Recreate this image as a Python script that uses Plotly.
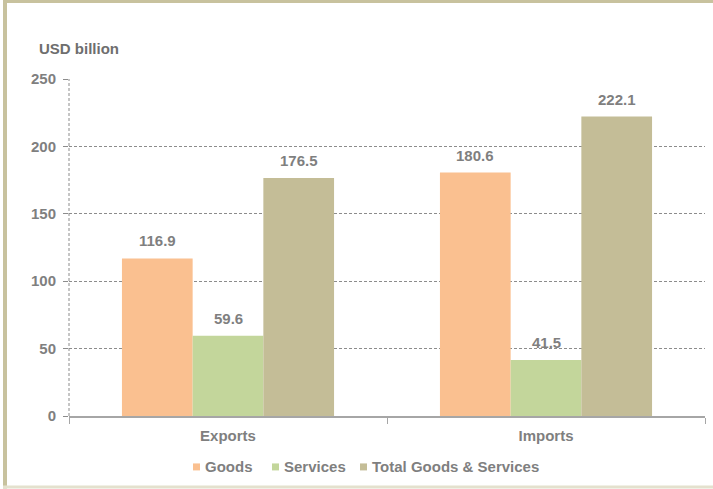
import plotly.graph_objects as go

# Trade flows, USD billion
categories = ["Exports", "Imports"]
series_names = ["Goods", "Services", "Total Goods & Services"]
goods = [116.9, 180.6]
services = [59.6, 41.5]
total = [176.5, 222.1]
y_ticks = [0, 50, 100, 150, 200, 250]

colors = ["#FAC090", "#C3D69B", "#C4BD97"]
grey = "#7F7F7F"
font_family = "Liberation Sans, Arial, sans-serif"
FS = 15

W, H = 713, 489
L, R, T, B = 69, 8, 79, 72.5
pw, ph = W - L - R, H - T - B
BARGAP = 0.333


def px_x(p):
    return (p - L) / pw


def px_y(p):
    return (H - B - p) / ph


fig = go.Figure()
for name, vals, col in zip(series_names, [goods, services, total], colors):
    fig.add_trace(go.Bar(
        x=categories, y=vals, name=name,
        marker=dict(color=col, line=dict(width=0)),
        showlegend=False,
    ))

# value labels above each bar
bar_w = pw / len(categories) * (1 - BARGAP) / len(series_names)
annotations = []
for i, vals in enumerate([goods, services, total]):
    offset = (i - (len(series_names) - 1) / 2) * bar_w
    for cat, v in zip(categories, vals):
        annotations.append(dict(
            x=cat, y=v, xref="x", yref="y", text=f"{v:.1f}", showarrow=False,
            xshift=offset, yshift=7, xanchor="center", yanchor="bottom",
            font=dict(family=font_family, size=FS, color=grey, weight="bold"),
        ))

# unit caption
annotations.append(dict(
    text="USD billion", xref="paper", yref="paper", x=px_x(37), y=px_y(48),
    xanchor="left", yanchor="middle", showarrow=False,
    font=dict(family=font_family, size=FS, color="#6E6E6E", weight="bold"),
))

shapes = [
    # dashed value axis line
    dict(type="line", xref="paper", yref="paper", x0=0, x1=0, y0=0, y1=1,
         line=dict(color="#8C8C8C", width=1, dash="3px,2px"), layer="above"),
    # frame
    dict(type="rect", xref="paper", yref="paper", x0=px_x(3), x1=px_x(W), y0=px_y(0), y1=px_y(3),
         fillcolor="#C8C29E", line=dict(width=0), layer="below"),
    dict(type="rect", xref="paper", yref="paper", x0=px_x(3), x1=px_x(7), y0=px_y(0), y1=px_y(H),
         fillcolor="#C8C29E", line=dict(width=0), layer="below"),
    dict(type="rect", xref="paper", yref="paper", x0=px_x(3), x1=px_x(W), y0=px_y(486), y1=px_y(H),
         fillcolor="#E4E1CE", line=dict(width=0), layer="below"),
]

# legend row: small square swatch followed by the series name
legend_x = [193, 272, 360]
legend_y = 467
for name, col, lx in zip(series_names, colors, legend_x):
    shapes.append(dict(type="rect", xref="paper", yref="paper",
                       x0=px_x(lx), x1=px_x(lx + 7), y0=px_y(legend_y + 4), y1=px_y(legend_y - 3),
                       fillcolor=col, line=dict(width=0)))
    annotations.append(dict(
        text=name, xref="paper", yref="paper", x=px_x(lx + 10), y=px_y(legend_y),
        xanchor="left", yanchor="middle", showarrow=False,
        font=dict(family=font_family, size=FS, color=grey, weight="bold"),
    ))

fig.update_layout(
    width=W, height=H,
    margin=dict(l=L, r=R, t=T, b=B, pad=0),
    paper_bgcolor="white", plot_bgcolor="white",
    barmode="group", bargap=BARGAP, bargroupgap=0,
    font=dict(family=font_family, size=FS, color=grey),
    showlegend=False,
    shapes=shapes,
    annotations=annotations,
    xaxis=dict(showline=True, linecolor="#A6A6A6", linewidth=1.5,
               ticks="outside", tickson="boundaries", ticklen=6, tickcolor="#A6A6A6",
               tickfont=dict(family=font_family, size=FS, color=grey, weight="bold"),
               showgrid=False, ticklabelstandoff=5),
    yaxis=dict(range=[0, 250], tickvals=y_ticks, showline=False, zeroline=False,
               showgrid=True, gridcolor="#8C8C8C", gridwidth=1, griddash="3px,2px",
               ticks="outside", ticklen=5, tickcolor="#8C8C8C",
               tickfont=dict(family=font_family, size=FS, color=grey, weight="bold"),
               ticklabelstandoff=4),
)

fig.write_html("out.html")
